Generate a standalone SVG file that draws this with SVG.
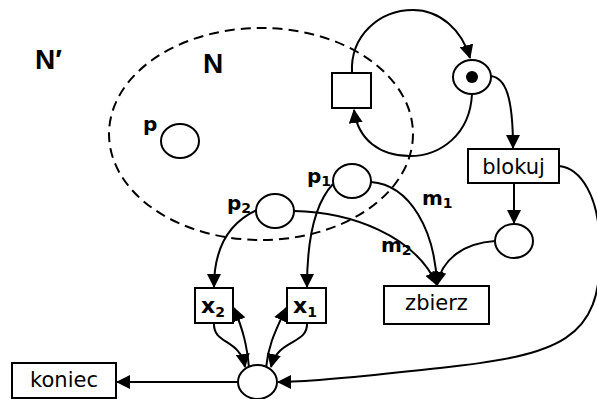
<svg xmlns="http://www.w3.org/2000/svg" width="597" height="399" viewBox="0 0 597 399">
  <style>
    .place { fill: #fff; stroke: #000; stroke-width: 2; }
    .trans { fill: #fff; stroke: #000; stroke-width: 2; }
    .arc { fill: none; stroke: #000; stroke-width: 2; }
    .lbl { font-family: "DejaVu Sans", "Liberation Sans", sans-serif; font-size: 21px; fill: #000; }
    .id { font-family: "DejaVu Sans", "Liberation Sans", sans-serif; font-weight: bold; font-size: 20px; fill: #000; }
    .tid { font-size: 22px; }
    .sub { font-size: 14px; }
    .big { font-family: "Liberation Sans", Arial, sans-serif; font-weight: bold; font-size: 28px; fill: #000; }
  </style>
  <defs>
    <marker id="arrow" markerUnits="userSpaceOnUse" markerWidth="14" markerHeight="14" refX="13" refY="7" orient="auto">
      <path d="M0,0 L14,7 L0,14 z" fill="#000"/>
    </marker>
  </defs>

  <rect width="597" height="399" fill="#fff"/>

  <!-- subnet boundary -->
  <g id="subnet">
    <ellipse cx="261" cy="134" rx="152" ry="106" fill="none" stroke="#000" stroke-width="2" stroke-dasharray="10 6"/>
    <text class="big" x="35" y="69">N′</text>
    <text class="big" x="203" y="73">N</text>
  </g>

  <!-- connectors -->
  <g id="connectors" class="arc" marker-end="url(#arrow)">
    <path d="M352,73 C350,35 380,10 413,10 C440,10 462,30 470,58"/>
    <path d="M472,94 C470,135 440,156 410,156 C380,156 358,140 354,110"/>
    <path d="M491,76 C505,78 513,95 513,148"/>
    <path d="M514,183 L514,223"/>
    <path d="M559,166 C580,168 600,195 600,250 C602,340 560,355 440,368 C400,372 320,382 278,382"/>
    <path d="M238,382 L117,382"/>
    <path d="M333,184 C318,200 307,230 307,287"/>
    <path d="M257,210 C235,220 214,240 214,287"/>
    <path d="M371,182 C410,185 435,230 437,285"/>
    <path d="M294,211 C350,212 415,235 437,285"/>
    <path d="M495,241 C465,243 442,258 437,285"/>
    <path d="M214,323 C213,345 240,338 245,367"/>
    <path d="M249,368 C247,345 243,330 234,308"/>
    <path d="M307,323 C308,345 278,338 271,367"/>
    <path d="M266,368 C268,345 276,330 286,308"/>
  </g>

  <!-- places -->
  <g id="place-p">
    <ellipse class="place" cx="180" cy="141" rx="19" ry="17"/>
    <text class="id" x="143" y="131">p</text>
  </g>
  <g id="place-p1">
    <ellipse class="place" cx="352" cy="181" rx="19" ry="17"/>
    <text class="id" x="307" y="183">p<tspan class="sub" dy="3">1</tspan></text>
  </g>
  <g id="place-p2">
    <ellipse class="place" cx="275" cy="211" rx="19" ry="17"/>
    <text class="id" x="227" y="210">p<tspan class="sub" dy="3">2</tspan></text>
  </g>
  <g id="place-lock">
    <ellipse class="place" cx="472" cy="77" rx="19" ry="17"/>
    <circle cx="472" cy="77" r="6" fill="#000"/>
  </g>
  <g id="place-blocked">
    <ellipse class="place" cx="514" cy="241" rx="19" ry="17"/>
  </g>
  <g id="place-results">
    <ellipse class="place" cx="257.5" cy="382" rx="19.5" ry="17"/>
  </g>

  <!-- arc labels -->
  <g id="labels">
    <text class="id" x="422" y="205">m<tspan class="sub" dy="3">1</tspan></text>
    <text class="id" x="381" y="252">m<tspan class="sub" dy="3">2</tspan></text>
  </g>

  <!-- transitions -->
  <g id="trans-loop">
    <rect class="trans" x="332" y="73" width="39" height="35"/>
  </g>
  <g id="trans-blokuj">
    <rect class="trans" x="468" y="149" width="91" height="34"/>
    <text class="lbl" x="513.5" y="174" text-anchor="middle">blokuj</text>
  </g>
  <g id="trans-zbierz">
    <rect class="trans" x="384" y="286" width="105" height="38"/>
    <text class="lbl" x="436.5" y="310" text-anchor="middle">zbierz</text>
  </g>
  <g id="trans-x2">
    <rect class="trans" x="195" y="288" width="38" height="35"/>
    <text class="id tid" x="201" y="313">x<tspan class="sub" dy="4">2</tspan></text>
  </g>
  <g id="trans-x1">
    <rect class="trans" x="287" y="288" width="39" height="35"/>
    <text class="id tid" x="293" y="313">x<tspan class="sub" dy="4">1</tspan></text>
  </g>
  <g id="trans-koniec">
    <rect class="trans" x="12" y="363" width="104" height="35"/>
    <text class="lbl" x="64" y="387" text-anchor="middle">koniec</text>
  </g>
</svg>
